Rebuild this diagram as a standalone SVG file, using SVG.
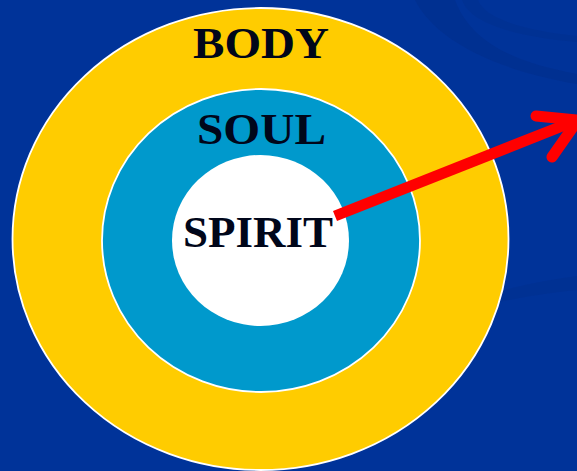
<svg xmlns="http://www.w3.org/2000/svg" width="577" height="471" viewBox="0 0 577 471">
  <style>
    .ring { stroke: #ffffff; stroke-width: 1.8; }
    .lbl { font-family: "Liberation Serif", "Times New Roman", serif; font-weight: bold; font-size: 45px; fill: #00061a; text-anchor: middle; }
    .arrow { fill: none; stroke: #ff0000; stroke-width: 11; }
  </style>
  <rect x="0" y="0" width="577" height="471" fill="#003399"/>
  <g id="background-swooshes" fill="#00308e" stroke="none">
    <path d="M415,0 C435,40 495,70 577,84 L577,74 C510,62 470,40 455,0 Z" opacity="0.8"/>
    <path d="M462,0 C470,22 510,36 577,42 L577,36 C520,30 485,18 478,0 Z" opacity="0.5"/>
    <path d="M480,306 C515,298 548,293 577,290 L577,276 C545,280 510,288 480,296 Z" opacity="0.5"/>
  </g>
  <g id="body">
    <ellipse class="ring" cx="260.5" cy="239" rx="248" ry="231" fill="#ffcc00"/>
    <text class="lbl" x="261" y="58" textLength="136" lengthAdjust="spacingAndGlyphs">BODY</text>
  </g>
  <g id="soul">
    <ellipse class="ring" cx="261" cy="240.5" rx="159" ry="151.5" fill="#0099cc"/>
    <text class="lbl" x="261.5" y="144" textLength="129" lengthAdjust="spacingAndGlyphs">SOUL</text>
  </g>
  <g id="spirit">
    <ellipse cx="260.5" cy="240.5" rx="88.5" ry="85.5" fill="#ffffff"/>
    <text class="lbl" x="258" y="247" textLength="150" lengthAdjust="spacingAndGlyphs">SPIRIT</text>
  </g>
  <g id="connectors">
    <line class="arrow" x1="335" y1="216" x2="575" y2="121" stroke-linecap="butt"/>
    <path class="arrow" d="M536,116 L578,120 L552,157" stroke-linecap="round" stroke-linejoin="round"/>
  </g>
</svg>
